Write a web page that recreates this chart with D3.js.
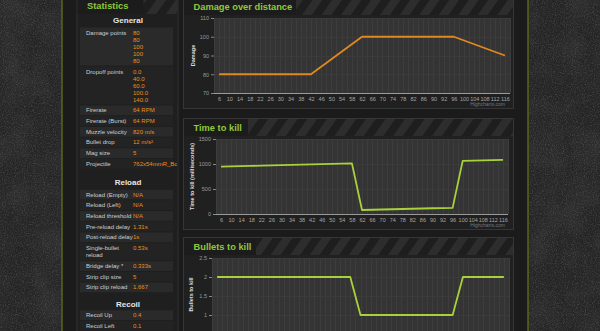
<!DOCTYPE html>
<html>
<head>
<meta charset="utf-8">
<script src="https://cdn.jsdelivr.net/npm/d3@7"></script>
<style>
  html, body { margin: 0; padding: 0; background: #242424; overflow: hidden; }
  svg { display: block; font-family: "Liberation Sans", Arial, sans-serif; }
</style>
</head>
<body>
<svg id="page" width="600" height="331"></svg>
<script>
// Distance categories (metres) shared by the three charts
const distances = [6, 10, 14, 18, 22, 26, 30, 34, 38, 42, 46, 50, 54, 58, 62,
                   66, 70, 74, 78, 82, 86, 90, 92, 96, 100, 104, 108, 112, 116];

// Damage per bullet at each distance
const damage = [80, 80, 80, 80, 80, 80, 80, 80, 80, 80, 84, 88, 92, 96, 100,
                100, 100, 100, 100, 100, 100, 100, 100, 100, 98, 96, 94, 92, 90];

// Time to kill in milliseconds
const timeToKill = [946, 952, 958, 963, 968, 973, 978, 983, 988, 993, 998, 1003, 1008, 1013, 80,
                    85, 90, 95, 100, 105, 110, 115, 118, 122, 1062, 1067, 1072, 1077, 1082];

// Bullets needed for a kill
const bulletsToKill = [2, 2, 2, 2, 2, 2, 2, 2, 2, 2, 2, 2, 2, 2, 1,
                       1, 1, 1, 1, 1, 1, 1, 1, 1, 2, 2, 2, 2, 2];

// Axis ticks
const damageTicks = [70, 80, 90, 100, 110];
const ttkTicks = [0, 500, 1000, 1500];
const btkTicks = [0, 0.5, 1, 1.5, 2, 2.5];

// Statistics table
const generalStats = [
  ["Damage points", ["80", "80", "100", "100", "80"]],
  ["Dropoff points", ["0.0", "40.0", "60.0", "100.0", "140.0"]],
  ["Firerate", ["64 RPM"]],
  ["Firerate (Burst)", ["64 RPM"]],
  ["Muzzle velocity", ["820 m/s"]],
  ["Bullet drop", ["12 m/s²"]],
  ["Mag size", ["5"]],
  ["Projectile", ["762x54mmR_Bolt"]]
];
const reloadStats = [
  ["Reload (Empty)", ["N/A"]],
  ["Reload (Left)", ["N/A"]],
  ["Reload threshold", ["N/A"]],
  ["Pre-reload delay", ["1.31s"]],
  ["Post-reload delay", ["1s"]],
  ["Single-bullet\nreload", ["0.53s"]],
  ["Bridge delay *", ["0.333s"]],
  ["Strip clip size", ["5"]],
  ["Strip clip reload", ["1.667"]]
];
const recoilStats = [
  ["Recoil Up", ["0.4"]],
  ["Recoil Left", ["0.1"]]
];

const svg = d3.select("#page");
const W = 600, H = 331;

// ---------- defs: grunge texture and header stripes ----------
const defs = svg.append("defs");
const grunge = defs.append("filter").attr("id", "grunge")
  .attr("x", 0).attr("y", 0).attr("width", "100%").attr("height", "100%");
grunge.append("feTurbulence").attr("type", "fractalNoise")
  .attr("baseFrequency", "0.9").attr("numOctaves", 3).attr("seed", 4);
grunge.append("feColorMatrix").attr("type", "matrix")
  .attr("values", "0 0 0 0 0.22  0 0 0 0 0.22  0 0 0 0 0.22  0.8 0 0 0 -0.36");

const blotch = defs.append("filter").attr("id", "blotch")
  .attr("x", 0).attr("y", 0).attr("width", "100%").attr("height", "100%");
blotch.append("feTurbulence").attr("type", "fractalNoise")
  .attr("baseFrequency", "0.03").attr("numOctaves", 3).attr("seed", 9);
blotch.append("feColorMatrix").attr("type", "matrix")
  .attr("values", "0 0 0 0 0.04  0 0 0 0 0.04  0 0 0 0 0.04  0 0 0 -1.2 0.7");

const stripes = defs.append("pattern").attr("id", "stripes")
  .attr("width", 16).attr("height", 16)
  .attr("patternUnits", "userSpaceOnUse")
  .attr("patternTransform", "rotate(35)");
stripes.append("rect").attr("width", 16).attr("height", 16).attr("fill", "#1e1e1e");
stripes.append("rect").attr("width", 8).attr("height", 16).attr("fill", "#2d2d2d");

// ---------- page background ----------
svg.append("rect").attr("width", W).attr("height", H).attr("fill", "#252525");
svg.append("rect").attr("width", W).attr("height", H).attr("filter", "url(#blotch)");
svg.append("rect").attr("width", W).attr("height", H).attr("filter", "url(#grunge)");

// central content column
svg.append("rect").attr("x", 62).attr("y", 0).attr("width", 466).attr("height", H).attr("fill", "#1b1b1b");
[62, 528].forEach(x => {
  svg.append("line").attr("x1", x).attr("x2", x).attr("y1", 0).attr("y2", H)
    .attr("stroke", "#56671f").attr("stroke-width", 1.5);
});

const titleGreen = "#8fc93a";

// Panel header with stripes and a solid block behind the title
function panelHeader(x, y, w, h, title, titleW) {
  svg.append("rect").attr("x", x).attr("y", y).attr("width", w).attr("height", h)
    .attr("fill", "url(#stripes)");
  svg.append("rect").attr("x", x).attr("y", y).attr("width", titleW).attr("height", h)
    .attr("fill", "#1c1c1c");
  svg.append("text").attr("x", x + 9.5).attr("y", y + h / 2 + 3.4)
    .attr("font-size", 9.3).attr("font-weight", "bold").attr("fill", titleGreen)
    .text(title);
}

// ---------- statistics panel ----------
const SP = { x: 77, w: 101 };
svg.append("rect").attr("x", SP.x).attr("y", -3).attr("width", SP.w).attr("height", H + 6)
  .attr("fill", "#1f1f1f").attr("stroke", "#323232");
panelHeader(SP.x + 0.5, -3, SP.w - 1, 17, "Statistics", 66);

const statsG = svg.append("g");
const labelX = 86, valueX = 133, lineH = 7, rowH = 10.7;
defs.append("clipPath").attr("id", "statsClip")
  .append("rect").attr("x", SP.x).attr("y", 0).attr("width", SP.w - 1).attr("height", H);
statsG.attr("clip-path", "url(#statsClip)");

let cursor = 8;
function section(name, rows, gap) {
  statsG.append("text").attr("x", 128).attr("y", cursor + 14.5)
    .attr("text-anchor", "middle").attr("font-size", 8).attr("font-weight", "bold")
    .attr("fill", "#e6e6e6").text(name);
  cursor += gap;
  rows.forEach((r, i) => {
    const labelLines = r[0].split("\n");
    const n = Math.max(labelLines.length, r[1].length);
    const h = n === 1 ? rowH : n * lineH + 4;
    statsG.append("rect").attr("x", 80).attr("y", cursor + 0.5)
      .attr("width", 93).attr("height", h - 1)
      .attr("fill", i % 2 === 0 ? "#2a2a2a" : "#232323");
    const first = n === 1 ? cursor + h / 2 + 2 : cursor + 2 + lineH / 2 + 2;
    labelLines.forEach((t, k) => {
      statsG.append("text").attr("x", labelX).attr("y", first + k * lineH)
        .attr("font-size", 6).attr("fill", "#cfcfcf").text(t);
    });
    r[1].forEach((t, k) => {
      statsG.append("text").attr("x", valueX).attr("y", first + k * lineH)
        .attr("font-size", 6).attr("fill", "#ef8d1d").text(t);
    });
    cursor += h;
  });
}
section("General", generalStats, 19);
cursor += 1;
section("Reload", reloadStats, 19);
section("Recoil", recoilStats, 17);

// ---------- charts ----------
function drawChart(cfg) {
  const g = svg.append("g");
  // box
  g.append("rect").attr("x", 183.5).attr("y", cfg.top + 0.5)
    .attr("width", 330).attr("height", cfg.bottom - cfg.top)
    .attr("fill", "#202020").attr("stroke", "#363636");
  panelHeader(184, cfg.top + 1, 329, 17, cfg.title, cfg.titleW);

  const p = cfg.plot;
  const x = d3.scalePoint().domain(distances).range([p.l, p.r]).padding(0.5);
  const y = d3.scaleLinear().domain(cfg.yDomain).range([p.b, p.t]);
  const visibleTicks = cfg.ticks.filter(t => y(t) <= H - 4);

  // plot background
  g.append("rect").attr("x", p.l).attr("y", p.t).attr("width", p.r - p.l).attr("height", p.b - p.t)
    .attr("fill", "#343434");

  // vertical grid: at each category and half way between categories
  const step = x.step();
  const gridX = [];
  distances.forEach(d => { gridX.push(x(d)); gridX.push(x(d) - step / 2); });
  gridX.push(x(distances[distances.length - 1]) + step / 2);
  g.selectAll(null).data(gridX).join("line")
    .attr("x1", d => Math.round(d) + 0.5).attr("x2", d => Math.round(d) + 0.5)
    .attr("y1", p.t).attr("y2", p.b)
    .attr("stroke", "#3d3d3d").attr("stroke-width", 1);

  // horizontal grid
  g.selectAll(null).data(visibleTicks).join("line")
    .attr("x1", p.l).attr("x2", p.r)
    .attr("y1", d => Math.round(y(d)) + 0.5).attr("y2", d => Math.round(y(d)) + 0.5)
    .attr("stroke", "#3b3b3b");

  // y axis labels and tick marks
  const yAxis = d3.axisLeft(y).tickValues(visibleTicks).tickSize(3).tickPadding(2)
    .tickFormat(cfg.fmt);
  const ya = g.append("g").attr("transform", `translate(${p.l},0)`).call(yAxis);
  ya.select(".domain").remove();
  ya.selectAll("line").attr("stroke", "#888");
  ya.selectAll("text").attr("font-size", 5.5).attr("fill", "#9a9a9a")
    .attr("font-family", "Liberation Sans, Arial, sans-serif");

  // y title
  g.append("text")
    .attr("transform", `translate(${cfg.yTitleX},${(p.t + Math.min(p.b, H)) / 2}) rotate(-90)`)
    .attr("text-anchor", "middle").attr("font-size", 5.5).attr("font-weight", "bold")
    .attr("fill", "#dddddd").text(cfg.yLabel);

  // x axis (only when it lies within the page)
  if (p.b < H) {
    const xAxis = d3.axisBottom(x).tickSize(0).tickPadding(4);
    const xa = g.append("g").attr("transform", `translate(0,${p.b})`).call(xAxis);
    xa.select(".domain").attr("stroke", "#9a9a9a").attr("d", `M${p.l},0.5H${p.r}`);
    xa.selectAll("text").attr("font-size", 5.5).attr("fill", "#a5a5a5")
      .attr("font-family", "Liberation Sans, Arial, sans-serif");
    g.append("text").attr("x", 505).attr("y", p.b + 12.5).attr("text-anchor", "end")
      .attr("font-size", 5).attr("fill", "#777").text("Highcharts.com");
  }

  // series line
  const line = d3.line().x((d, i) => x(distances[i])).y(d => y(d));
  g.append("path").datum(cfg.values)
    .attr("fill", "none").attr("stroke", cfg.color).attr("stroke-width", 1.8)
    .attr("stroke-linejoin", "round").attr("d", line);
}

drawChart({
  top: -3, bottom: 108, title: "Damage over distance", titleW: 112,
  plot: { l: 214, r: 510, t: 18, b: 93 },
  yDomain: [70, 110], ticks: damageTicks, fmt: d3.format("d"),
  yLabel: "Damage", yTitleX: 195, values: damage, color: "#e0891f"
});
drawChart({
  top: 118, bottom: 229, title: "Time to kill", titleW: 64,
  plot: { l: 216, r: 508, t: 139, b: 214 },
  yDomain: [0, 1500], ticks: ttkTicks, fmt: d3.format("d"),
  yLabel: "Time to kill (milliseconds)", yTitleX: 194, values: timeToKill, color: "#a8d13b"
});
drawChart({
  top: 237, bottom: 345, title: "Bullets to kill", titleW: 72,
  plot: { l: 212, r: 509, t: 258, b: 353 },
  yDomain: [0, 2.5], ticks: btkTicks, fmt: d => d3.format("~g")(d),
  yLabel: "Bullets to kill", yTitleX: 193, values: bulletsToKill, color: "#a8d13b"
});
</script>
</body>
</html>
